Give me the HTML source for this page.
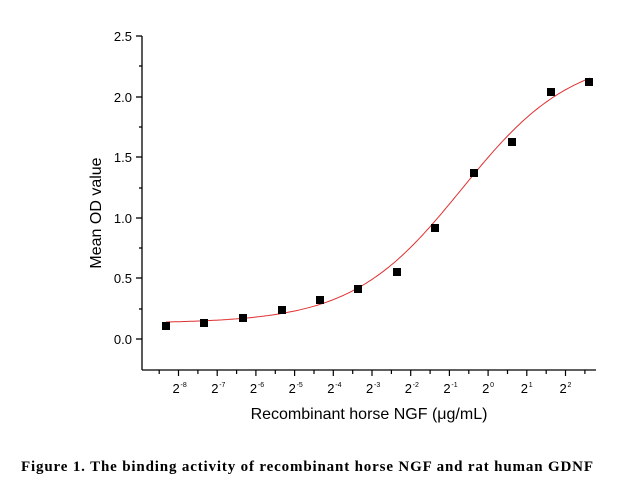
<!DOCTYPE html>
<html><head><meta charset="utf-8"><style>body{margin:0;background:#fff}svg{display:block}</style></head>
<body>
<svg id="s" width="644" height="499" xmlns="http://www.w3.org/2000/svg" font-family="Liberation Sans, sans-serif">
<g stroke="#000" stroke-width="1.3" fill="none">
<line x1="142" y1="36" x2="142" y2="370"/>
<line x1="142" y1="370" x2="596" y2="370"/>
<line x1="136" y1="36" x2="142" y2="36"/>
<line x1="136" y1="97" x2="142" y2="97"/>
<line x1="136" y1="157" x2="142" y2="157"/>
<line x1="136" y1="218" x2="142" y2="218"/>
<line x1="136" y1="278" x2="142" y2="278"/>
<line x1="136" y1="339" x2="142" y2="339"/>
<line x1="139" y1="66" x2="142" y2="66"/>
<line x1="139" y1="127" x2="142" y2="127"/>
<line x1="139" y1="188" x2="142" y2="188"/>
<line x1="139" y1="248" x2="142" y2="248"/>
<line x1="139" y1="309" x2="142" y2="309"/>
</g>
<g id="xt" stroke="#000" stroke-width="1.2"></g>
<g font-size="13" text-anchor="end" fill="#000">
<text x="132" y="41">2.5</text><text x="132" y="102">2.0</text><text x="132" y="162">1.5</text>
<text x="132" y="223">1.0</text><text x="132" y="283">0.5</text><text x="132" y="344">0.0</text>
</g>
<g id="xl" font-size="13" fill="#000"></g>
<text x="0" y="0" font-size="16" text-anchor="middle" transform="translate(101,213) rotate(-90)">Mean OD value</text>
<text x="369" y="419" font-size="16" text-anchor="middle">Recombinant horse NGF (μg/mL)</text>
<text x="21" y="471" font-size="15" font-weight="bold" textLength="572" lengthAdjust="spacing" font-family="Liberation Serif, serif">Figure 1. The binding activity of recombinant horse NGF and rat human GDNF</text>
<path id="c" fill="none" stroke="#e03030" stroke-width="1"/>
<g id="pts" fill="#000"></g>
</svg>
<script>
var ns="http://www.w3.org/2000/svg";
function el(t,a,p){var e=document.createElementNS(ns,t);for(var k in a)e.setAttribute(k,a[k]);document.getElementById(p).appendChild(e);return e;}
var exps=["-8","-7","-6","-5","-4","-3","-2","-1","0","1","2"];
for(var i=0;i<11;i++){var x=178.5+i*38.7;
el("line",{x1:x,y1:370,x2:x,y2:376},"xt");
var t=el("text",{x:x-6,y:393},"xl");t.textContent="2";
var s=el("text",{x:x+2,y:387,"font-size":"7"},"xl");s.textContent=exps[i];}
for(var x=159.2;x<=596;x+=19.35){var maj=false;for(var i=0;i<11;i++)if(Math.abs(x-(178.5+i*38.7))<3)maj=true;
if(!maj)el("line",{x1:x,y1:370,x2:x,y2:374},"xt");}
function Y(v){return 339-v*121.2;}
var d="";for(var x=166;x<=591;x+=2){var v=0.13+2.22/(1+Math.exp(-(x-462)/55));d+=(d?"L":"M")+x+" "+Y(v).toFixed(1);}
document.getElementById("c").setAttribute("d",d);
var P=[[166,326],[204,323],[243,318],[282,310],[320,300],[358,289],[397,272],[435,228],[474,173],[512,142],[551,92],[589,82]];
P.forEach(function(p){el("rect",{x:p[0]-4,y:p[1]-4,width:8,height:8},"pts");});
</script>
</body></html>
